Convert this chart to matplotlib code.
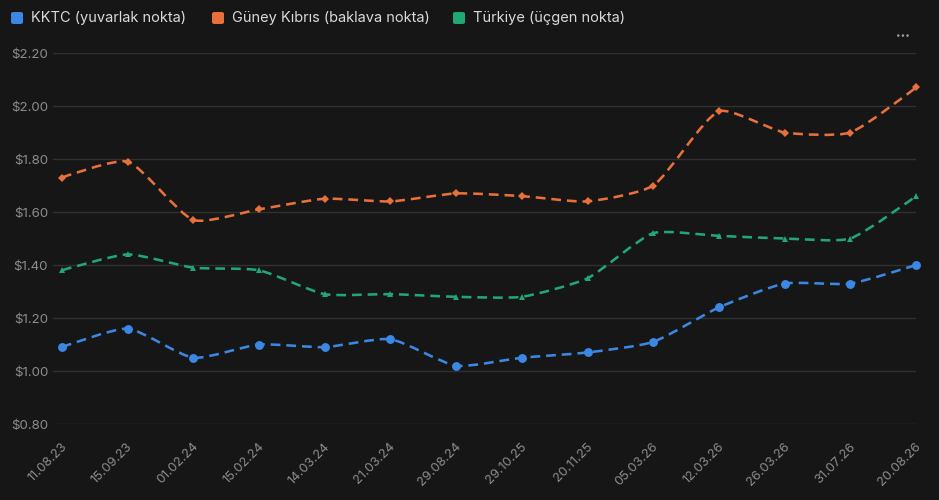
import matplotlib
matplotlib.use("Agg")
import matplotlib.pyplot as plt
import matplotlib.transforms as mtransforms
from matplotlib.path import Path
from matplotlib.patches import PathPatch, FancyBboxPatch
import numpy as np

# ---- data ----
dates = ["11.08.23", "15.09.23", "01.02.24", "15.02.24", "14.03.24", "21.03.24",
         "29.08.24", "29.10.25", "20.11.25", "05.03.26", "12.03.26", "26.03.26",
         "31.07.26", "20.08.26"]
kktc = [1.09, 1.16, 1.05, 1.10, 1.09, 1.12, 1.02, 1.05, 1.07, 1.11, 1.24, 1.33, 1.33, 1.40]
guney = [1.73, 1.79, 1.57, 1.61, 1.65, 1.64, 1.67, 1.66, 1.64, 1.70, 1.98, 1.90, 1.90, 2.07]
turkiye = [1.38, 1.44, 1.39, 1.38, 1.29, 1.29, 1.28, 1.28, 1.35, 1.52, 1.51, 1.50, 1.50, 1.66]

series_names = ["KKTC (yuvarlak nokta)", "Güney Kıbrıs (baklava nokta)", "Türkiye (üçgen nokta)"]
series_colors = ["#3b87e4", "#e8703a", "#20a774"]
series_markers = ["o", "D", "^"]
series_msize = [6.4, 4.3, 4.0]

y_ticks = [0.8, 1.0, 1.2, 1.4, 1.6, 1.8, 2.0, 2.2]

BG = "#161616"
GRID = "#303030"
TICK = "#8c8c8c"
TEXT = "#d9d9d9"
FONT = ["Inter", "DejaVu Sans"]
TENSION = 0.2


def spline_path(ax, xs, ys, tension):
    """Cardinal-style bezier through the points (control points worked out in pixels)."""
    pts = ax.transData.transform(np.column_stack([xs, ys]))
    n = len(pts)
    prev_cp = pts.copy()
    next_cp = pts.copy()
    for i in range(1, n - 1):
        p0, p1, p2 = pts[i - 1], pts[i], pts[i + 1]
        d01 = np.hypot(*(p1 - p0))
        d12 = np.hypot(*(p2 - p1))
        fa = tension * d01 / (d01 + d12)
        fb = tension * d12 / (d01 + d12)
        prev_cp[i] = p1 - fa * (p2 - p0)
        next_cp[i] = p1 + fb * (p2 - p0)
    verts = [pts[0]]
    codes = [Path.MOVETO]
    for i in range(n - 1):
        verts += [next_cp[i], prev_cp[i + 1], pts[i + 1]]
        codes += [Path.CURVE4] * 3
    verts = ax.transData.inverted().transform(np.array(verts))
    return Path(verts, codes)


fig = plt.figure(figsize=(9.39, 5.0), dpi=100, facecolor=BG)
ax = fig.add_axes([53 / 939, 76 / 500, 863 / 939, 371 / 500])
ax.set_facecolor(BG)

x = np.arange(len(dates))
ax.set_xlim(-9 / 65.7, len(dates) - 1)
ax.set_ylim(0.8, 2.2)

for vals, col, mk, ms in zip([kktc, guney, turkiye], series_colors, series_markers, series_msize):
    patch = PathPatch(spline_path(ax, x, vals, TENSION), facecolor="none", edgecolor=col,
                      linewidth=1.85, linestyle=(0, (3.8, 2.3)), capstyle="butt", zorder=3)
    ax.add_patch(patch)
    ax.plot(x, vals, linestyle="none", marker=mk, markersize=ms, color=col,
            markeredgewidth=0, zorder=4, clip_on=False)

ax.set_yticks(y_ticks)
ax.set_yticklabels([f"${v:.2f}" for v in y_ticks], fontsize=9.6, color=TICK, family=FONT)
ax.set_xticks(x)
ax.set_xticklabels(dates, rotation=45, ha="right", va="center", rotation_mode="anchor",
                   fontsize=9.3, color=TICK, family=FONT)
ax.tick_params(axis="y", length=0, pad=3.5)
ax.tick_params(axis="x", length=0, pad=15)
ax.grid(axis="y", color=GRID, linewidth=1)
ax.set_axisbelow(True)
for sp in ax.spines.values():
    sp.set_visible(False)

# nudge the rotated date labels a few pixels right, like the reference
shift = mtransforms.ScaledTranslation(3 / 100, 0, fig.dpi_scale_trans)
for lbl in ax.get_xticklabels():
    lbl.set_transform(lbl.get_transform() + shift)

# legend across the top
leg_x = [11, 212, 453]
for lx, name, col in zip(leg_x, series_names, series_colors):
    sq = FancyBboxPatch((lx / 939, 1 - 24 / 500), 12 / 939, 12 / 500,
                        boxstyle="round,pad=0,rounding_size=0.003", transform=fig.transFigure,
                        facecolor=col, edgecolor="none")
    fig.patches.append(sq)
    fig.text((lx + 20) / 939, 1 - 18 / 500, name, color=TEXT, fontsize=10.5,
             family=FONT, va="center", ha="left")

fig.text(903 / 939, 1 - 35 / 500, "\u2022\u2022\u2022", color="#9a9a9a", fontsize=6,
         family=FONT, ha="center", va="center")

fig.savefig("out.png", dpi=100, facecolor=BG)
